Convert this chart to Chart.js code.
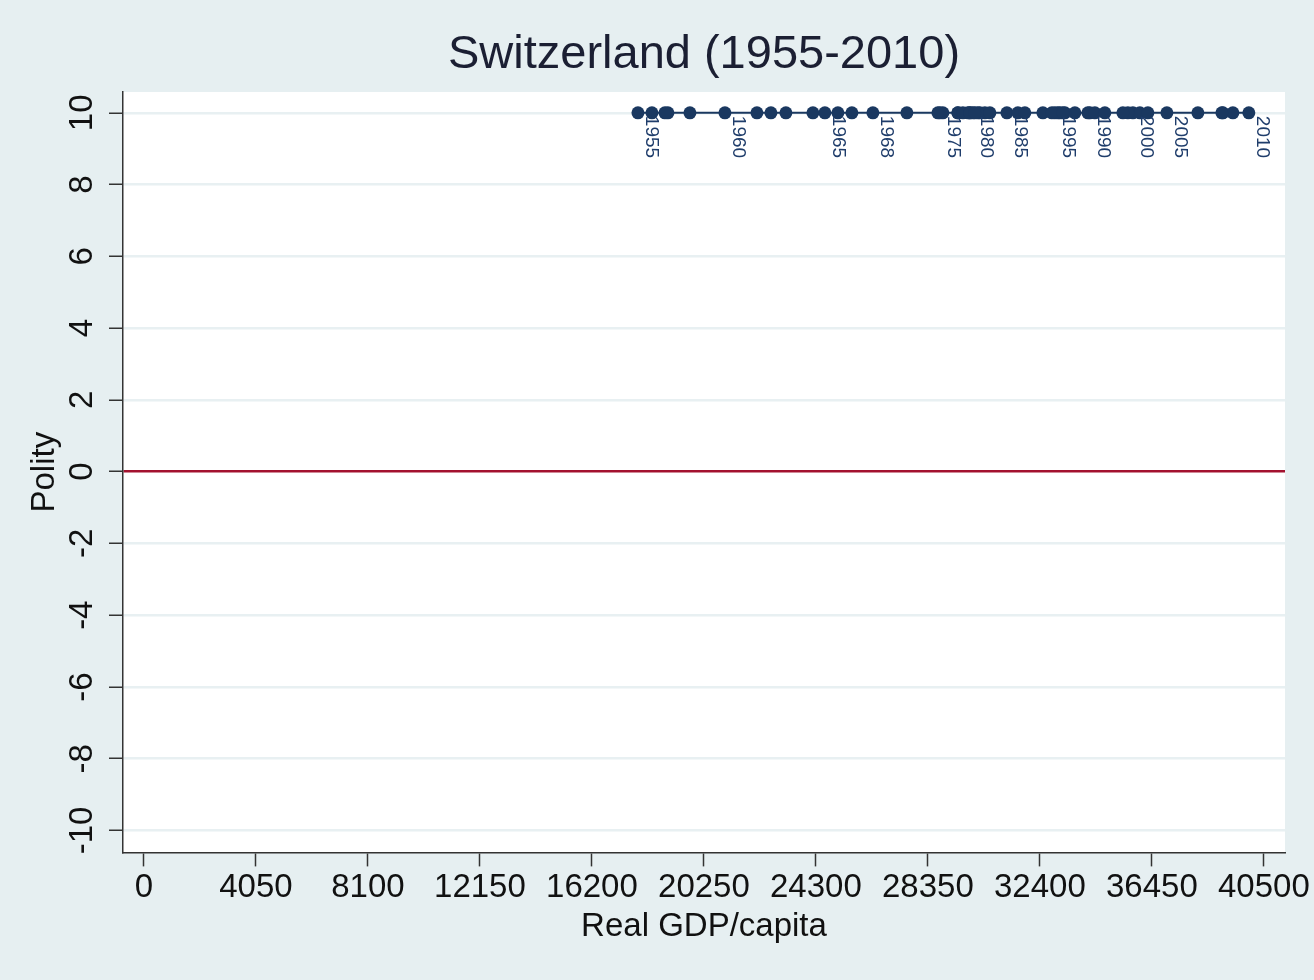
<!DOCTYPE html>
<html>
<head>
<meta charset="utf-8">
<script src="https://cdn.jsdelivr.net/npm/chart.js@4"></script>
<style>
  html, body { margin: 0; padding: 0; background: #e6eff1; }
  canvas { display: block; }
</style>
</head>
<body>
<canvas id="chart" width="1314" height="980"></canvas>
<script>
// Switzerland, 1955-2010: real GDP per capita vs polity score
const years = [
  1955, 1956, 1957, 1958, 1959, 1960, 1961, 1962, 1963, 1964,
  1965, 1966, 1967, 1968, 1969, 1970, 1971, 1972, 1973, 1974,
  1975, 1976, 1977, 1978, 1979, 1980, 1981, 1982, 1983, 1984,
  1985, 1986, 1987, 1988, 1989, 1990, 1991, 1992, 1993, 1994,
  1995, 1996, 1997, 1998, 1999, 2000, 2001, 2002, 2003, 2004,
  2005, 2006, 2007, 2008, 2009, 2010
];
const gdpPerCapita = [
  17864, 18370, 18948, 18840, 19744, 21010, 22167, 22673, 23215, 24192,
  24625, 25095, 25602, 26361, 27590, 28892, 29435, 29797, 30231, 30411,
  28784, 28712, 29435, 29616, 29869, 29978, 30158, 29869, 30050, 30592,
  31207, 31605, 31857, 32508, 33123, 34208, 34136, 33666, 33304, 33051,
  32942, 32834, 33232, 34389, 34750, 35763, 36016, 35582, 35402, 36306,
  36993, 38114, 39018, 39380, 38982, 39957
];
const polity = [
  10, 10, 10, 10, 10, 10, 10, 10, 10, 10,
  10, 10, 10, 10, 10, 10, 10, 10, 10, 10,
  10, 10, 10, 10, 10, 10, 10, 10, 10, 10,
  10, 10, 10, 10, 10, 10, 10, 10, 10, 10,
  10, 10, 10, 10, 10, 10, 10, 10, 10, 10,
  10, 10, 10, 10, 10, 10
];
const labeledYears = [1955, 1960, 1965, 1968, 1975, 1980, 1985, 1990, 1995, 2000, 2005, 2010];
const xTicks = [0, 4050, 8100, 12150, 16200, 20250, 24300, 28350, 32400, 36450, 40500];
const yTicks = [-10, -8, -6, -4, -2, 0, 2, 4, 6, 8, 10];

const TITLE = 'Switzerland (1955-2010)';
const FONT = '"Liberation Sans", Arial, sans-serif';
const NAVY = '#1a3860';

// white plot region, like Stata's plotregion
const plotBackground = {
  id: 'plotBackground',
  beforeDraw(chart) {
    const { ctx, chartArea: a } = chart;
    ctx.save();
    ctx.fillStyle = '#ffffff';
    ctx.fillRect(a.left, a.top, a.right - a.left, a.bottom - a.top);
    ctx.restore();
  }
};

// title centred over the plot region, not the whole canvas
const plotTitle = {
  id: 'plotTitle',
  afterDraw(chart) {
    const { ctx, chartArea: a } = chart;
    ctx.save();
    ctx.fillStyle = '#1b1f33';
    ctx.font = '47px ' + FONT;
    ctx.textAlign = 'center';
    ctx.textBaseline = 'middle';
    ctx.fillText(TITLE, (a.left + a.right) / 2, 55);
    ctx.restore();
  }
};

// y tick labels are rotated, Chart.js can't do that on a vertical axis
const rotatedYTicks = {
  id: 'rotatedYTicks',
  afterDraw(chart) {
    const { ctx } = chart;
    const y = chart.scales.y;
    ctx.save();
    ctx.fillStyle = '#111111';
    ctx.font = '33px ' + FONT;
    ctx.textAlign = 'center';
    ctx.textBaseline = 'middle';
    yTicks.forEach(v => {
      ctx.save();
      ctx.translate(83, y.getPixelForValue(v));
      ctx.rotate(-Math.PI / 2);
      ctx.fillText(String(v), 0, 0);
      ctx.restore();
    });
    ctx.restore();
  }
};

// year marker labels, rotated clockwise
const yearLabels = {
  id: 'yearLabels',
  afterDatasetsDraw(chart) {
    const { ctx } = chart;
    const meta = chart.getDatasetMeta(0);
    ctx.save();
    ctx.fillStyle = '#1f3d6b';
    ctx.font = '19px ' + FONT;
    ctx.textAlign = 'left';
    ctx.textBaseline = 'middle';
    years.forEach((yr, i) => {
      if (!labeledYears.includes(yr)) return;
      const pt = meta.data[i];
      ctx.save();
      ctx.translate(pt.x + 13, pt.y + 3);
      ctx.rotate(Math.PI / 2);
      ctx.fillText(String(yr), 0, 0);
      ctx.restore();
    });
    ctx.restore();
  }
};

new Chart(document.getElementById('chart'), {
  type: 'scatter',
  data: {
    datasets: [{
      data: years.map((yr, i) => ({ x: gdpPerCapita[i], y: polity[i] })),
      showLine: true,
      borderColor: NAVY,
      borderWidth: 2,
      backgroundColor: NAVY,
      pointBackgroundColor: NAVY,
      pointBorderColor: NAVY,
      pointRadius: 6.5,
      pointBorderWidth: 0
    }]
  },
  options: {
    responsive: false,
    animation: false,
    devicePixelRatio: 1,
    layout: { padding: { left: 0, right: 29, top: 92, bottom: 37 } },
    plugins: {
      legend: { display: false },
      tooltip: { enabled: false },
      title: { display: false }
    },
    scales: {
      x: {
        type: 'linear',
        min: -759,
        max: 41265,
        afterBuildTicks: s => { s.ticks = xTicks.map(v => ({ value: v })); },
        border: { color: '#333333', width: 1.5 },
        grid: { drawOnChartArea: false, tickLength: 14, tickColor: '#333333', tickWidth: 1.5 },
        ticks: {
          color: '#111111',
          padding: 2,
          maxRotation: 0,
          autoSkip: false,
          font: { family: FONT, size: 33 },
          callback: v => String(v)
        },
        title: {
          display: true,
          text: 'Real GDP/capita',
          color: '#111111',
          font: { family: FONT, size: 33, lineHeight: 1.0 },
          padding: { top: 0, bottom: 0 }
        }
      },
      y: {
        type: 'linear',
        min: -10.61,
        max: 10.58,
        afterBuildTicks: s => { s.ticks = yTicks.map(v => ({ value: v })); },
        afterFit: s => { s.width = 123; },
        border: { color: '#333333', width: 1.5 },
        grid: {
          color: c => (c.tick && c.tick.value === 0) ? '#a3122f' : '#e8f0f2',
          lineWidth: 2.5,
          tickLength: 14,
          tickColor: '#333333',
          tickWidth: 1.5
        },
        ticks: { display: false },
        title: {
          display: true,
          text: 'Polity',
          color: '#111111',
          font: { family: FONT, size: 33, lineHeight: 1.0 },
          padding: { top: 28, bottom: 0 }
        }
      }
    }
  },
  plugins: [plotBackground, plotTitle, rotatedYTicks, yearLabels]
});
</script>
</body>
</html>
